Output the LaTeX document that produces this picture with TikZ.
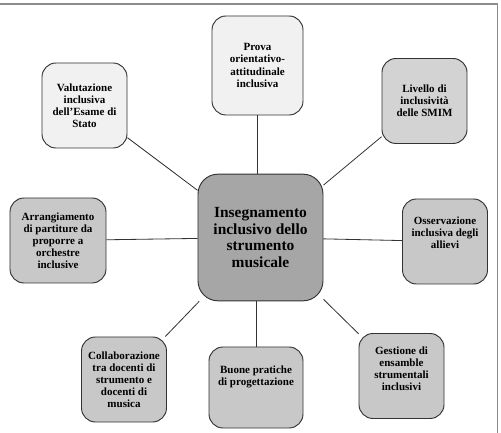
\documentclass[tikz,border=0pt]{standalone}
\usepackage{fontspec}
\setmainfont{Liberation Serif}
\usepackage{xcolor}
\usepackage{tikz}

\definecolor{hubgray}{HTML}{A6A6A6}
\definecolor{midgray}{HTML}{C8C8C8}
\definecolor{palegray}{HTML}{F1F1F1}
\definecolor{edgegray}{HTML}{333333}
\definecolor{framegray}{HTML}{8C8C8C}

\begin{document}
\begin{tikzpicture}[
    x=0.03cm, y=-0.03cm,
    font=\bfseries\fontsize{9.4}{10.3}\selectfont,
    leaf/.style={draw=edgegray, line width=0.8pt, rounded corners=0.42cm,
                 fill=midgray, align=center, inner sep=2pt,
                 minimum width=2.55cm, minimum height=2.55cm},
    pale/.style={leaf, fill=palegray},
    hub/.style={draw=edgegray, line width=0.8pt, rounded corners=0.6cm,
                fill=hubgray, align=center, inner sep=2pt,
                font=\bfseries\fontsize{13.2}{14}\selectfont,
                minimum width=3.75cm, minimum height=3.8cm},
    link/.style={draw=edgegray, line width=0.7pt},
  ]
  \useasboundingbox (0,0) rectangle (501,433);

  %% ---- frame -------------------------------------------------------
  \draw[framegray, line width=1.2pt] (0,4) -- (497.5,4) -- (497.5,433);

  %% ---- hub ---------------------------------------------------------
  \node[hub] (hub) at (260.5,237.5)
  {Insegnamento\\inclusivo dello\\strumento\\musicale};

  %% ---- surrounding topics ------------------------------------------
  \node[pale] (valut) at (84.5,105.5) {Valutazione\\inclusiva\\dell’Esame di\\Stato};
  \node[pale, minimum width=2.73cm, minimum height=2.97cm] (prova) at (257.5,65.5)
  {Prova\\orientativo-\\attitudinale\\inclusiva};
  \node[leaf, fill=midgray!80!white] (livello) at (424.5,101) {Livello di\\inclusività\\delle SMIM};
  \node[leaf, minimum width=2.88cm] (arrang) at (58,240.5)
  {Arrangiamento\\di partiture da\\proporre a\\orchestre\\inclusive};
  \node[leaf] (osserv) at (445,241.5) {Osservazione\\inclusiva degli\\allievi\\[1.2ex]};
  \node[leaf] (collab) at (124,379.5)
  {Collaborazione\\tra docenti di\\strumento e\\docenti di\\musica};
  \node[leaf, minimum width=2.82cm, minimum height=2.43cm] (buone) at (256,387.5)
  {Buone pratiche\\di progettazione\\[2.2ex]};
  \node[leaf] (gestione) at (401.5,376) {Gestione di\\ensamble\\strumentali\\inclusivi\\[0.6ex]};

  %% ---- spokes ------------------------------------------------------
  \draw[link] (valut) -- (hub);
  \draw[link] (prova.south) -- (prova.south |- hub.north);
  \draw[link] (livello) -- (hub);
  \draw[link] (arrang) -- (hub);
  \draw[link] (osserv) -- (hub);
  \draw[link] (collab) -- (hub);
  \draw[link] (buone.north) -- (buone.north |- hub.south);
  \draw[link] (gestione) -- (hub);

\end{tikzpicture}
\end{document}
